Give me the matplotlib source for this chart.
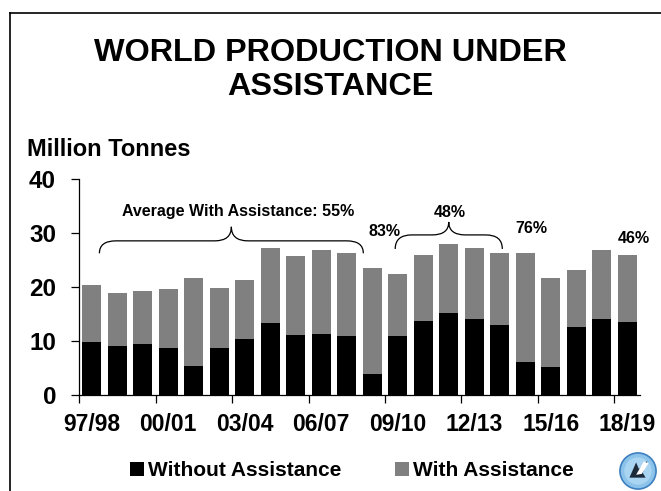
import matplotlib
matplotlib.use("Agg")
import matplotlib.pyplot as plt
import numpy as np
from matplotlib.path import Path
from matplotlib.patches import PathPatch, Patch, Circle, Polygon
from matplotlib.lines import Line2D
from matplotlib.ticker import FixedLocator, NullFormatter

plt.rcParams['font.family'] = ['Liberation Sans', 'DejaVu Sans']
plt.rcParams['font.weight'] = 'bold'

seasons = ['97/98', '98/99', '99/00', '00/01', '01/02', '02/03', '03/04', '04/05',
           '05/06', '06/07', '07/08', '08/09', '09/10', '10/11', '11/12', '12/13',
           '13/14', '14/15', '15/16', '16/17', '17/18', '18/19']
without_assistance = [9.9, 9.1, 9.5, 8.8, 5.5, 8.8, 10.4, 13.3, 11.2, 11.3, 11.0,
                      3.9, 10.9, 13.7, 15.2, 14.2, 13.0, 6.1, 5.3, 12.7, 14.2, 13.6]
with_assistance = [10.5, 9.9, 9.8, 10.9, 16.3, 11.0, 11.0, 13.9, 14.6, 15.7, 15.3,
                   19.7, 11.5, 12.2, 12.8, 13.0, 13.4, 20.3, 16.4, 10.5, 12.7, 12.3]
label_every = 3

# period annotations: (text, x centre, y)
period_notes = [('Average With Assistance: 55%', 5.74, 34.1),
                ('83%', 11.5, 30.4),
                ('48%', 14.03, 33.9),
                ('76%', 17.25, 30.8),
                ('46%', 21.25, 29.1)]
# braces: (x start, x end, y of ends, y of flat part, y of tip)
braces = [(0.3, 10.65, 26.3, 28.6, 31.2),
          (11.9, 16.1, 27.1, 29.7, 32.1)]

W, H = 661, 491
fig = plt.figure(figsize=(W / 100, H / 100), dpi=100)
fig.patch.set_facecolor('white')

ax = fig.add_axes([79 / W, 1 - 395.3 / H, 561 / W, 216 / H])
x = np.arange(len(seasons))
bw = 0.73
ax.bar(x, without_assistance, width=bw, color='black', label='Without Assistance')
ax.bar(x, with_assistance, width=bw, bottom=without_assistance, color='#808080',
       label='With Assistance')

ax.set_xlim(-0.5, len(seasons) - 0.5)
ax.set_ylim(0, 40)
for s in ('top', 'right'):
    ax.spines[s].set_visible(False)
for s in ('left', 'bottom'):
    ax.spines[s].set_linewidth(0.9)

ax.set_yticks([0, 10, 20, 30, 40])
ax.tick_params(axis='y', length=5.5, width=0.9, direction='out', pad=11,
               labelsize=17.5)
ax.set_xticks(x[::label_every])
ax.set_xticklabels(seasons[::label_every])
ax.tick_params(axis='x', which='major', length=0, pad=13, labelsize=16.5)
ax.xaxis.set_minor_locator(FixedLocator(np.arange(-0.5, len(seasons), label_every)))
ax.xaxis.set_minor_formatter(NullFormatter())
ax.tick_params(axis='x', which='minor', length=5.5, width=0.9, direction='out')
for lab in ax.get_xticklabels() + ax.get_yticklabels():
    lab.set_fontweight('bold')

# curly braces over the averaged periods
def brace(x0, x1, yb, yf, yt, d=0.65):
    xm = (x0 + x1) / 2
    verts = [(x0, yb), (x0, yf), (x0 + d, yf),
             (xm - d, yf),
             (xm, yf), (xm, yt),
             (xm, yf), (xm + d, yf),
             (x1 - d, yf),
             (x1, yf), (x1, yb)]
    codes = [Path.MOVETO, Path.CURVE3, Path.CURVE3,
             Path.LINETO,
             Path.CURVE3, Path.CURVE3,
             Path.CURVE3, Path.CURVE3,
             Path.LINETO,
             Path.CURVE3, Path.CURVE3]
    ax.add_patch(PathPatch(Path(verts, codes), fill=False, lw=0.9,
                           edgecolor='black', clip_on=False))

for b in braces:
    brace(*b)

for txt, tx, ty in period_notes:
    ax.text(tx, ty, txt, ha='center', va='center', fontsize=11.5,
            fontweight='bold', clip_on=False)

# titles
fig.text(0.5, 1 - 70 / H, 'WORLD PRODUCTION UNDER\nASSISTANCE', ha='center',
         va='center', fontsize=23.3, fontweight='bold', linespacing=1.2)
fig.text(27 / W, 1 - 150 / H, 'Million Tonnes', ha='left', va='center',
         fontsize=17, fontweight='bold')

# slide frame
fig.add_artist(Line2D([10 / W, 10 / W], [0, 1 - 12.7 / H], color='black', lw=1.2,
                      transform=fig.transFigure))
fig.add_artist(Line2D([10 / W, 1], [1 - 12.7 / H, 1 - 12.7 / H], color='black',
                      lw=1.2, transform=fig.transFigure))

handles = [Patch(facecolor='black', label='Without Assistance'),
           Patch(facecolor='#808080', label='With Assistance')]
fig.legend(handles=handles, loc='center', bbox_to_anchor=(352 / W, 1 - 471 / H),
           ncol=2, frameon=False, handlelength=0.65,
           handleheight=0.65, handletextpad=0.2, columnspacing=2.6,
           prop={'weight': 'bold', 'size': 15})

# small round emblem
lax = fig.add_axes([619 / W, 1 - 490 / H, 38 / W, 38 / H])
lax.set_xlim(-1, 1)
lax.set_ylim(-1, 1)
lax.set_aspect('equal')
lax.axis('off')
lax.add_patch(Circle((0, 0), 0.95, facecolor='#8cc3ea', edgecolor='#3d7fbf', lw=1.2))
lax.add_patch(Circle((0, 0), 0.72, facecolor='#a9d4f2', edgecolor='none'))
lax.add_patch(Polygon([(-0.45, -0.35), (-0.1, 0.45), (0.05, 0.1), (0.5, 0.55),
                       (0.25, -0.1), (0.4, -0.35)], closed=True,
                      facecolor='#1c2a3a', edgecolor='none'))
lax.add_patch(Polygon([(-0.1, -0.2), (0.3, 0.5), (0.55, 0.4), (0.2, -0.15)],
                      closed=True, facecolor='white', edgecolor='none'))

fig.savefig('out.png', dpi=100)
